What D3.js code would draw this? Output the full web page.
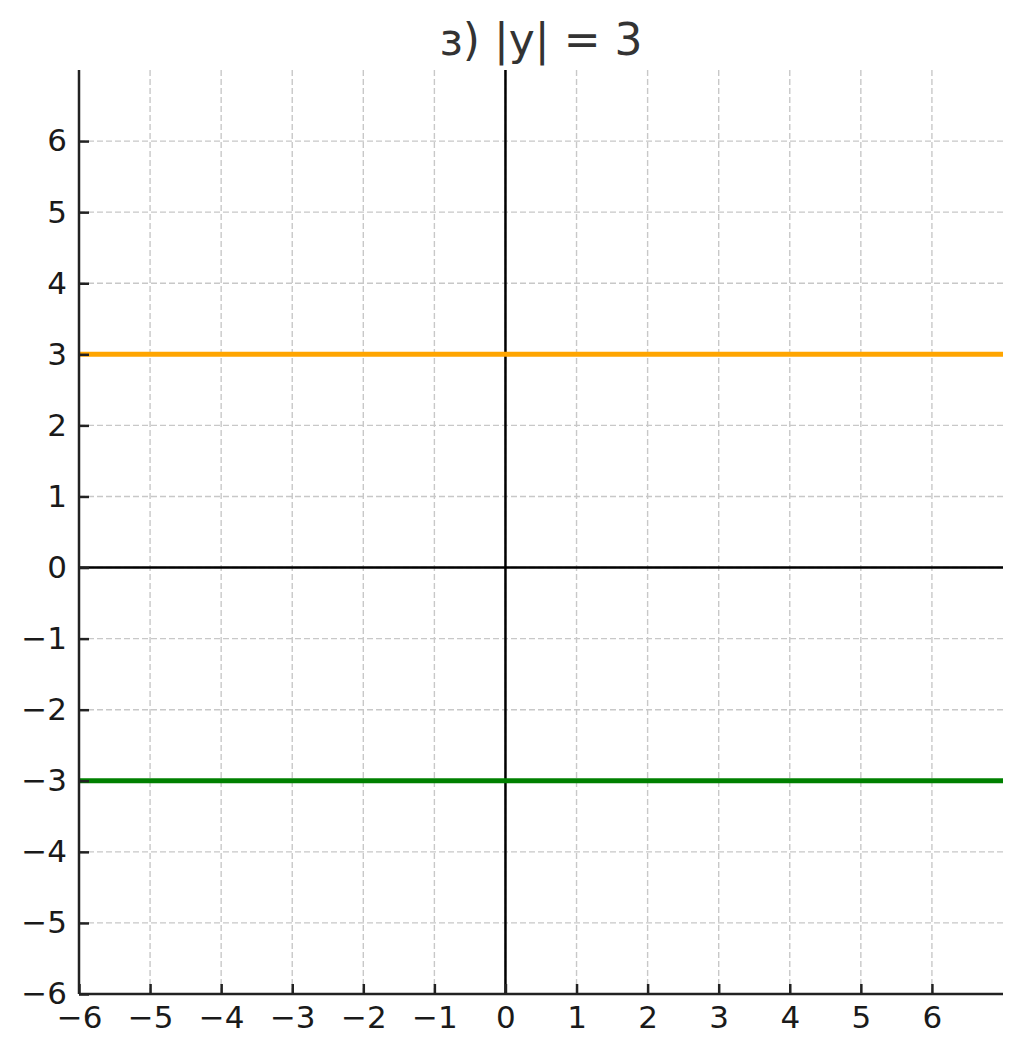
<!DOCTYPE html>
<html><head><meta charset="utf-8">
<script src="https://cdn.jsdelivr.net/npm/d3@7"></script>
<style>body{margin:0;background:#fff;} svg{display:block;}</style>
</head><body>
<svg id="c" width="1023" height="1057"></svg>
<script>
const title = "з) |y| = 3";
const xDomain = [-6, 7];
const yDomain = [-6, 7];
const xTicks = [-6,-5,-4,-3,-2,-1,0,1,2,3,4,5,6];
const yTicks = [-6,-5,-4,-3,-2,-1,0,1,2,3,4,5,6];
const lineXs = [-6, 7];
const seriesY = [
  {name: "y = 3", value: 3, color: "#ffa500"},
  {name: "y = -3", value: -3, color: "#008000"}
];

const svg = d3.select("#c");
const m = {left: 79, right: 1003, top: 70, bottom: 994};
const x = d3.scaleLinear().domain(xDomain).range([m.left, m.right]);
const y = d3.scaleLinear().domain(yDomain).range([m.bottom, m.top]);
const fmt = d => d < 0 ? "\u2212" + Math.abs(d) : String(d);
const font = "DejaVu Sans, sans-serif";

// grid
const g = svg.append("g");
g.selectAll("line.gx").data(xTicks).join("line")
  .attr("x1", d => x(d)).attr("x2", d => x(d))
  .attr("y1", m.top).attr("y2", m.bottom)
  .attr("stroke", "#c8c8c8").attr("stroke-width", 1.4).attr("stroke-dasharray", "6,3");
g.selectAll("line.gy").data(yTicks).join("line")
  .attr("y1", d => y(d)).attr("y2", d => y(d))
  .attr("x1", m.left).attr("x2", m.right)
  .attr("stroke", "#c8c8c8").attr("stroke-width", 1.4).attr("stroke-dasharray", "6,3");

// zero axes
svg.append("line").attr("x1", x(0)).attr("x2", x(0)).attr("y1", m.top).attr("y2", m.bottom)
  .attr("stroke", "#000").attr("stroke-width", 2.5);
svg.append("line").attr("y1", y(0)).attr("y2", y(0)).attr("x1", m.left).attr("x2", m.right)
  .attr("stroke", "#000").attr("stroke-width", 2.5);

// series lines
const line = d3.line().x(d => x(d[0])).y(d => y(d[1]));
seriesY.forEach(s => {
  svg.append("path").datum(lineXs.map(v => [v, s.value]))
    .attr("d", line).attr("fill", "none").attr("stroke", s.color).attr("stroke-width", 5);
});

// axes
const xAxis = d3.axisBottom(x).tickValues(xTicks).tickFormat(fmt).tickSizeInner(-10).tickSizeOuter(0).tickPadding(12);
const yAxis = d3.axisLeft(y).tickValues(yTicks).tickFormat(fmt).tickSizeInner(-10).tickSizeOuter(0).tickPadding(12);
const gx = svg.append("g").attr("transform", `translate(0,${m.bottom})`).call(xAxis);
const gy = svg.append("g").attr("transform", `translate(${m.left},0)`).call(yAxis);
[gx, gy].forEach(a => {
  a.attr("font-size", 31).attr("font-family", font);
  a.select(".domain").attr("stroke", "#222").attr("stroke-width", 2.5);
  a.selectAll(".tick line").attr("stroke", "#222").attr("stroke-width", 2.5);
  a.selectAll(".tick text").attr("font-family", font).attr("font-size", 31).attr("fill", "#1a1a1a");
});
gx.select(".domain").attr("d", `M${m.left},0H${m.right}`);
gy.select(".domain").attr("d", `M0,${m.bottom}V${m.top}`);

// title
svg.append("text").attr("x", (m.left + m.right) / 2).attr("y", 55)
  .attr("text-anchor", "middle").attr("font-family", font).attr("font-size", 44)
  .attr("fill", "#333").text(title);
</script>
</body></html>
